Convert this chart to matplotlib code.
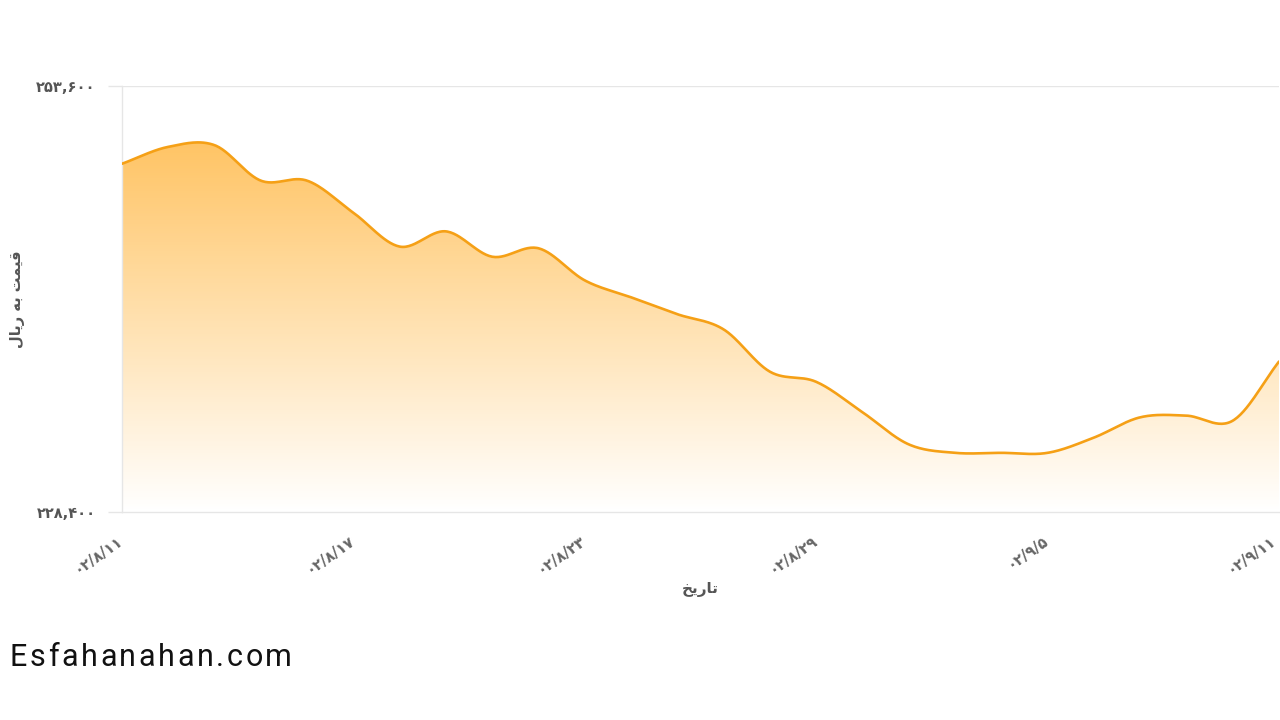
import matplotlib
matplotlib.use("Agg")
import matplotlib.pyplot as plt
import matplotlib.transforms as mtransforms
import numpy as np
from matplotlib.colors import LinearSegmentedColormap

# trading days (Fridays missing), Jalali 1402
dates = ["۰۲/۸/۱۱", "۰۲/۸/۱۳", "۰۲/۸/۱۴", "۰۲/۸/۱۵", "۰۲/۸/۱۶",
         "۰۲/۸/۱۷", "۰۲/۸/۱۸", "۰۲/۸/۲۰", "۰۲/۸/۲۱", "۰۲/۸/۲۲",
         "۰۲/۸/۲۳", "۰۲/۸/۲۴", "۰۲/۸/۲۵", "۰۲/۸/۲۷", "۰۲/۸/۲۸",
         "۰۲/۸/۲۹", "۰۲/۸/۳۰", "۰۲/۹/۱", "۰۲/۹/۲", "۰۲/۹/۴",
         "۰۲/۹/۵", "۰۲/۹/۶", "۰۲/۹/۷", "۰۲/۹/۸", "۰۲/۹/۹",
         "۰۲/۹/۱۱"]
prices = [249000, 250000, 250100, 248000, 248000,
          246100, 244100, 245000, 243500, 244000,
          242100, 241100, 240100, 239200, 236700,
          236100, 234300, 232400, 231900, 231900,
          231900, 232800, 234000, 234100, 233800,
          237300]

y_min, y_max = 228400, 253600
ytick_labels = ["۲۲۸,۴۰۰", "۲۵۳,۶۰۰"]

# pre-shaped persian labels (visual order)
xlabel = "\uFEA6\uFEF3\uFEAD\uFE8E\uFE97"                      # تاریخ
ylabel = "\uFEDD\uFE8E\uFEF3\uFEAD \uFEEA\uFE91 \uFE96\uFEE4\uFEF4\uFED7"  # قیمت به ریال
watermark = "Esfahanahan.com"

plt.rcParams['font.family'] = ['DejaVu Sans']


def catmull_rom(x, y, n=30):
    x = np.asarray(x, float)
    y = np.asarray(y, float)
    px = np.concatenate([[2*x[0]-x[1]], x, [2*x[-1]-x[-2]]])
    py = np.concatenate([[2*y[0]-y[1]], y, [2*y[-1]-y[-2]]])
    xs, ys = [], []
    t = np.linspace(0, 1, n, endpoint=False)
    for i in range(1, len(px)-2):
        for p, out in ((px, xs), (py, ys)):
            p0, p1, p2, p3 = p[i-1], p[i], p[i+1], p[i+2]
            out.append(0.5*((2*p1) + (-p0+p2)*t + (2*p0-5*p1+4*p2-p3)*t**2
                            + (-p0+3*p1-3*p2+p3)*t**3))
    xs.append([x[-1]])
    ys.append([y[-1]])
    return np.concatenate(xs), np.concatenate(ys)


x = np.arange(len(prices))
sx, sy = catmull_rom(x, prices)

fig = plt.figure(figsize=(12.8, 7.2), dpi=100)
ax = fig.add_axes([122/1280, 1-512/720, (1279-122)/1280, 426/720])

ax.set_xlim(0, len(prices)-1)
ax.set_ylim(y_min, y_max)

# gradient fill under the curve
cmap = LinearSegmentedColormap.from_list(
    "fade", [(1, 0.72, 0.25, 0.0), (1, 0.71, 0.24, 0.92)])
grad = np.linspace(0, 1, 256).reshape(-1, 1)
im = ax.imshow(grad, cmap=cmap, aspect='auto', origin='lower',
               extent=[0, len(prices)-1, y_min, y_max], zorder=1)
poly = ax.fill_between(sx, sy, y_min, color='none', lw=0)
im.set_clip_path(poly.get_paths()[0], transform=ax.transData)

ax.plot(sx, sy, color='#F5A016', lw=1.9, zorder=3, solid_capstyle='round')

ax.axhline(y_max, color='#e6e6e6', lw=1, zorder=0)

for s in ('right', 'top'):
    ax.spines[s].set_visible(False)
for s in ('left', 'bottom'):
    ax.spines[s].set_color('#e6e6e6')
    ax.spines[s].set_linewidth(1)

ax.set_yticks([y_min, y_max])
ax.set_yticklabels(ytick_labels, fontsize=10.5, fontweight='bold', color='#555555')
ax.tick_params(axis='y', length=10, width=1, color='#e6e6e6', pad=9)

tick_idx = list(range(0, len(dates), 5))
ax.set_xticks(tick_idx)
ax.set_xticklabels([dates[i] for i in tick_idx], fontsize=10.5, fontweight='bold',
                   color='#666666', rotation=35, ha='right', va='top',
                   rotation_mode='anchor')
ax.tick_params(axis='x', length=0, pad=15)
xlabs = ax.get_xticklabels()
for i, lab in enumerate(xlabs):
    dx = -5 if i < len(xlabs) - 1 else -9   # keep the last one inside the frame
    lab.set_transform(lab.get_transform()
                      + mtransforms.ScaledTranslation(dx/100, 0, fig.dpi_scale_trans))

ax.set_xlabel(xlabel, fontsize=11, fontweight='bold', color='#555555', labelpad=4)
ax.set_ylabel(ylabel, fontsize=10.5, fontweight='bold', color='#555555', labelpad=8)

# watermark with a little letter spacing
renderer = fig.canvas.get_renderer()
xpos = 10
for ch in watermark:
    t = fig.text(xpos/1280, 1-658/720, ch, fontsize=22, color='#111111',
                 family='Roboto', va='center', ha='left')
    w = t.get_window_extent(renderer).width
    xpos += w + 2.6

fig.savefig("out.png", dpi=100)
